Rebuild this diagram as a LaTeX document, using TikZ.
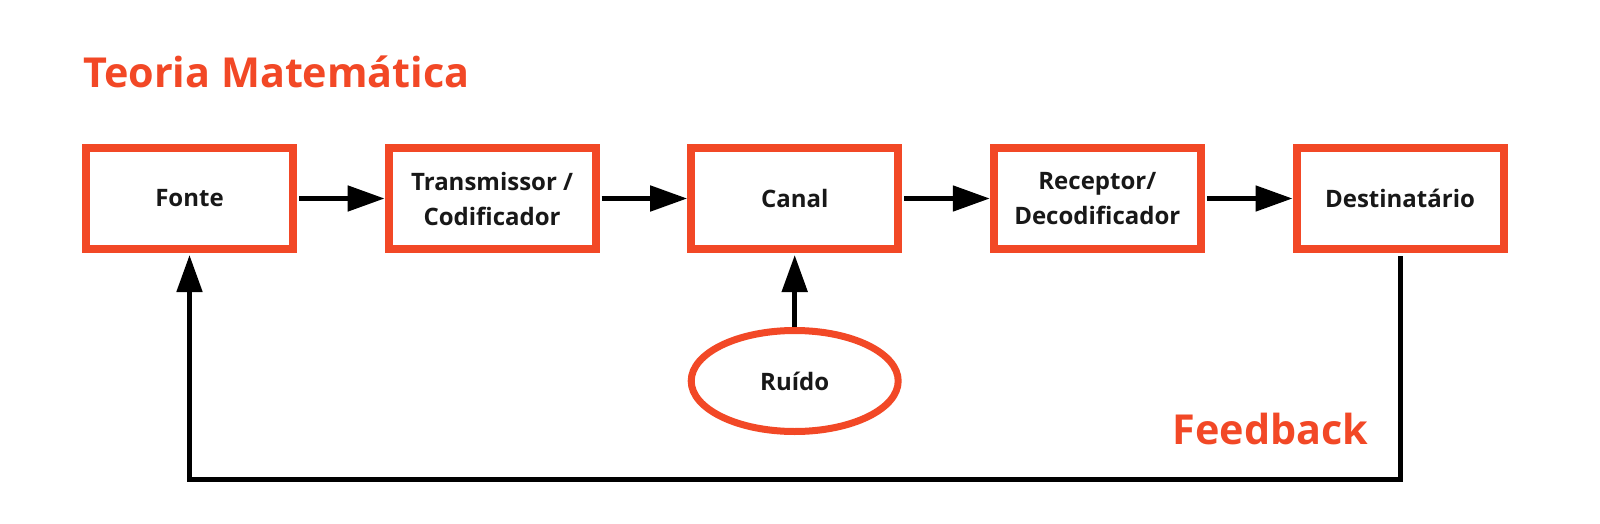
\documentclass[tikz,border=0pt]{standalone}
\usepackage{fontspec}
\setmainfont{Open Sans}
\usetikzlibrary{arrows.meta,shapes.geometric}
\definecolor{accent}{RGB}{242,72,38}
\definecolor{ink}{RGB}{24,24,24}
\tikzset{
  stagebox/.style={draw=accent, line width=8pt, minimum width=207pt, minimum height=101pt,
    inner sep=0pt, fill=white, align=center, text=ink,
    font=\fontsize{24}{35}\selectfont\bfseries},
  noisebox/.style={ellipse, draw=accent, line width=7pt, minimum width=207pt, minimum height=101pt,
    inner sep=0pt, fill=white, text=ink, font=\fontsize{24}{35}\selectfont\bfseries},
  flow/.style={draw=black, line width=5pt, -{Triangle[length=37pt,width=25pt]}},
  heading/.style={text=accent, font=\fontsize{41.3}{48}\selectfont\bfseries, inner sep=0pt}
}
\begin{document}
\begin{tikzpicture}[x=1pt,y=-1pt]
\useasboundingbox[fill=white] (0,0) rectangle (1600,524);
\node[heading, anchor=base west] (title) at (83,87.7) {Teoria Matemática};
\node[stagebox] (fonte) at (189.5,198.5) {Fonte};
\node[stagebox] (trans) at (492.1,198.5) {Transmissor /\\Codificador};
\node[stagebox] (canal) at (794.7,198.5) {Canal};
\node[stagebox] (recep) at (1097.3,198.5) {Receptor/\\Decodificador};
\node[stagebox] (dest) at (1400,198.5) {Destinatário};
\node[noisebox] (ruido) at (794.7,381) {Ruído};
\node[heading, anchor=base west] (fb) at (1172.7,444.3) {Feedback};
\draw[flow, shorten <=2pt] (fonte) -- (trans);
\draw[flow, shorten <=2pt] (trans) -- (canal);
\draw[flow, shorten <=2pt] (canal) -- (recep);
\draw[flow, shorten <=2pt] (recep) -- (dest);
\draw[flow, shorten >=2pt] (ruido.north) -- (canal.south);
\coordinate (fbR) at (1400,479);
\coordinate (fbL) at (189.5,479);
\draw[flow, line join=miter, shorten <=3pt, shorten >=2pt] (dest.south) -- (fbR) -- (fbL) -- (fonte.south);
\end{tikzpicture}
\end{document}
